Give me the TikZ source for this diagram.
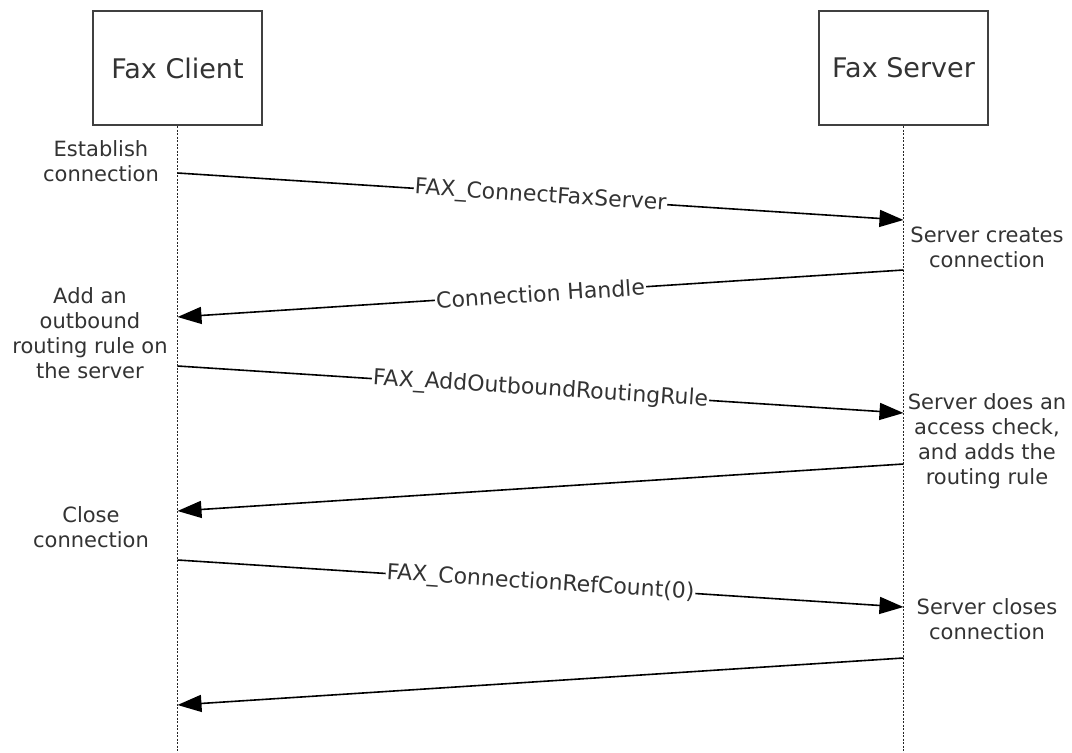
\documentclass[tikz,border=0pt]{standalone}
\usepackage{fontspec}
\setmainfont{DejaVu Sans}
\usetikzlibrary{arrows.meta}
\begin{document}
\begin{tikzpicture}[x=1pt,y=-1pt,
  actor/.style={draw=black!75,line width=2pt,minimum width=169pt,minimum height=114pt,inner sep=0pt,text=black!80,font=\fontsize{27}{32}\selectfont},
  lifeline/.style={draw=black!85,line width=1.5pt,dash pattern=on 2pt off 1.5pt},
  msg/.style={draw=black,line width=1.6pt,-{Triangle[length=24pt,width=17pt]}},
  msglabel/.style={fill=white,inner sep=1pt,sloped,text=black!80,font=\fontsize{22}{26}\selectfont},
  note/.style={align=center,text=black!80,font=\fontsize{21}{25}\selectfont,inner sep=0pt}]
\useasboundingbox (0,0) rectangle (1072,753);
\fill[white] (0,0) rectangle (1072,753);
% actors
\node[actor] (client) at (177.5,68) {Fax Client};
\node[actor] (server) at (903.5,68) {Fax Server};
\coordinate (cend) at (177.5,753);
\coordinate (send) at (903.5,753);
\draw[lifeline] (client.south) -- (cend);
\draw[lifeline] (server.south) -- (send);
% points on lifelines
\coordinate (c1) at (177.5,173);
\coordinate (s1) at (903.5,220);
\coordinate (s2) at (903.5,270);
\coordinate (c2) at (177.5,317);
\coordinate (c3) at (177.5,366);
\coordinate (s3) at (903.5,413);
\coordinate (s4) at (903.5,464);
\coordinate (c4) at (177.5,511);
\coordinate (c5) at (177.5,560);
\coordinate (s5) at (903.5,607);
\coordinate (s6) at (903.5,658);
\coordinate (c6) at (177.5,705);
% messages
\draw[msg] (c1) -- node[msglabel] {FAX\_ConnectFaxServer} (s1);
\draw[msg] (s2) -- node[msglabel] {Connection Handle} (c2);
\draw[msg] (c3) -- node[msglabel] {FAX\_AddOutboundRoutingRule} (s3);
\draw[msg] (s4) -- (c4);
\draw[msg] (c5) -- node[msglabel] {FAX\_ConnectionRefCount(0)} (s5);
\draw[msg] (s6) -- (c6);
% notes
\node[note] (n1) at (101,161) {Establish\\connection};
\node[note] (n2) at (90,333) {Add an\\outbound\\routing rule on\\the server};
\node[note] (n3) at (91,527) {Close\\connection};
\node[note] (n4) at (987,247) {Server creates\\connection};
\node[note] (n5) at (987,441) {Server does an\\access check,\\and adds the\\routing rule};
\node[note] (n6) at (987,619) {Server closes\\connection};
\end{tikzpicture}
\end{document}
